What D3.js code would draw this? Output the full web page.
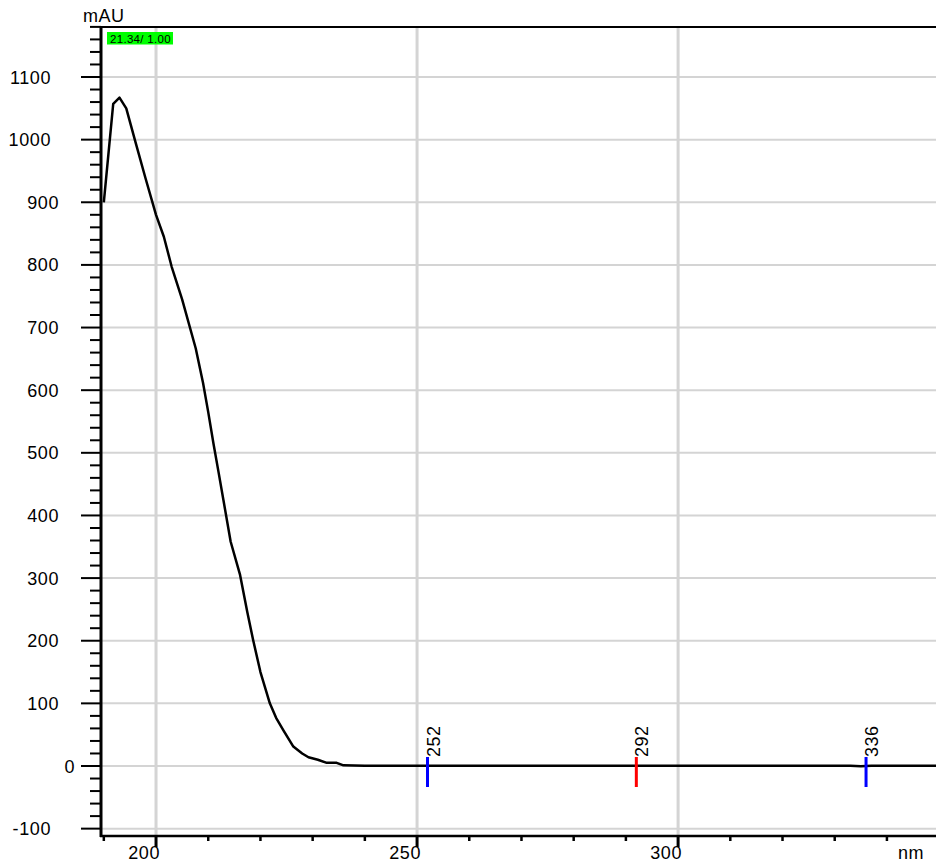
<!DOCTYPE html>
<html>
<head>
<meta charset="utf-8">
<script src="https://cdn.jsdelivr.net/npm/d3@7"></script>
<style>
  html, body { margin: 0; padding: 0; background: #fff; }
  svg { display: block; font-family: "Liberation Sans", Arial, sans-serif; }
</style>
</head>
<body>
<svg id="chart" width="936" height="863"></svg>
<script>
// ---- data ----
const wavelengths = [190, 191.8, 193, 194.3, 196, 198, 200, 201.5, 203, 205, 207.6, 209, 210, 211, 212, 212.9, 214.3, 216.1, 217.5, 218.6, 220, 221.8, 223, 224.4, 226.3, 228, 229.2, 231, 232.7, 234.6, 235.9, 240, 260, 280, 300, 320, 333, 335, 337, 349.5];
const absorbance  = [900, 1057, 1067, 1050, 998, 938, 880, 845, 797, 745, 667, 612, 565, 515, 468, 425, 358, 305, 245, 201, 150, 100, 77, 57, 31, 20, 14, 10, 5, 5, 1, 0.5, 0.5, 0.5, 0.5, 0.5, 0.5, -0.5, 0.5, 0.5];
const yTicks = [-100, 0, 100, 200, 300, 400, 500, 600, 700, 800, 900, 1000, 1100];
const xTicks = [200, 250, 300];
const markerNm = [252, 292, 336];
const markerColor = ["#0000ff", "#ff0000", "#0000ff"];
const infoLabel = "21.34/ 1.00";
const yUnit = "mAU";
const xUnit = "nm";

// ---- layout ----
const svg = d3.select("#chart");
const pLeft = 101, pRight = 936, pTop = 27, pBottom = 836;
const x = d3.scaleLinear().domain([189.46, 349.4]).range([pLeft, pRight]);
const y = d3.scaleLinear().domain([0, 1100]).range([766, 77]);

// grid
const grid = svg.append("g");
grid.selectAll("line.h").data(yTicks).join("line")
  .attr("x1", pLeft).attr("x2", pRight)
  .attr("y1", d => y(d)).attr("y2", d => y(d))
  .attr("stroke", "#d4d4d4").attr("stroke-width", 2);
grid.selectAll("line.v").data(xTicks).join("line")
  .attr("x1", d => x(d)).attr("x2", d => x(d))
  .attr("y1", pTop).attr("y2", pBottom)
  .attr("stroke", "#d4d4d4").attr("stroke-width", 3);

// top border
svg.append("line").attr("x1", pLeft).attr("x2", pRight).attr("y1", pTop).attr("y2", pTop)
  .attr("stroke", "#000").attr("stroke-width", 2);

// curve
const pts = wavelengths.map((w, i) => [w, absorbance[i]]);
svg.append("path").datum(pts)
  .attr("fill", "none").attr("stroke", "#000").attr("stroke-width", 2.5)
  .attr("stroke-linejoin", "round")
  .attr("d", d3.line().x(d => x(d[0])).y(d => y(d[1])));

// markers
const mk = svg.append("g");
markerNm.forEach((m, i) => {
  mk.append("line").attr("x1", x(m)).attr("x2", x(m)).attr("y1", 757).attr("y2", 787)
    .attr("stroke", markerColor[i]).attr("stroke-width", 3);
  mk.append("text").attr("transform", `translate(${x(m) + 12},757) rotate(-90)`)
    .attr("font-size", 18).attr("letter-spacing", 0.5).attr("fill", "#000").text(m);
});

// y axis
const yAxisG = svg.append("g");
yAxisG.append("line").attr("x1", pLeft).attr("x2", pLeft).attr("y1", pTop).attr("y2", pBottom + 1)
  .attr("stroke", "#000").attr("stroke-width", 3);
const yMinor = d3.range(-100, 1181, 20);
yAxisG.selectAll("line.t").data(yMinor).join("line")
  .attr("x1", d => (d % 100 === 0 ? 81 : 90)).attr("x2", pLeft)
  .attr("y1", d => y(d)).attr("y2", d => y(d))
  .attr("stroke", "#000").attr("stroke-width", 2);
yAxisG.selectAll("text").data(yTicks).join("text")
  .attr("x", d => 83 - 8 * String(d).length)
  .attr("y", d => y(d) + 6.5)
  .attr("text-anchor", "end").attr("font-size", 18).attr("letter-spacing", 0.6).attr("fill", "#000")
  .text(d => d);

// x axis
const xAxisG = svg.append("g");
xAxisG.append("line").attr("x1", pLeft - 1).attr("x2", pRight).attr("y1", pBottom).attr("y2", pBottom)
  .attr("stroke", "#000").attr("stroke-width", 2.5);
const xMinor = d3.range(190, 350, 10);
xAxisG.selectAll("line.t").data(xMinor).join("line")
  .attr("x1", d => x(d)).attr("x2", d => x(d))
  .attr("y1", pBottom).attr("y2", d => (d % 50 === 0 ? 847 : 841))
  .attr("stroke", "#000").attr("stroke-width", d => (d % 50 === 0 ? 3 : 2.5));
xAxisG.selectAll("text").data(xTicks).join("text")
  .attr("x", d => x(d) + 4).attr("y", 859)
  .attr("text-anchor", "end").attr("font-size", 18).attr("letter-spacing", 0.6).attr("fill", "#000")
  .text(d => d);

// unit labels
svg.append("text").attr("x", 83).attr("y", 22).attr("font-size", 18).attr("letter-spacing", 0.5).text(yUnit);
svg.append("text").attr("x", 898).attr("y", 859).attr("font-size", 18).attr("letter-spacing", 0.5).text(xUnit);

// info box
svg.append("rect").attr("x", 107).attr("y", 32).attr("width", 66).attr("height", 12.5).attr("fill", "#00ff00");
svg.append("text").attr("x", 110).attr("y", 42.5).attr("font-size", 11.5).attr("letter-spacing", 0.3).attr("fill", "#000").text(infoLabel);
</script>
</body>
</html>
